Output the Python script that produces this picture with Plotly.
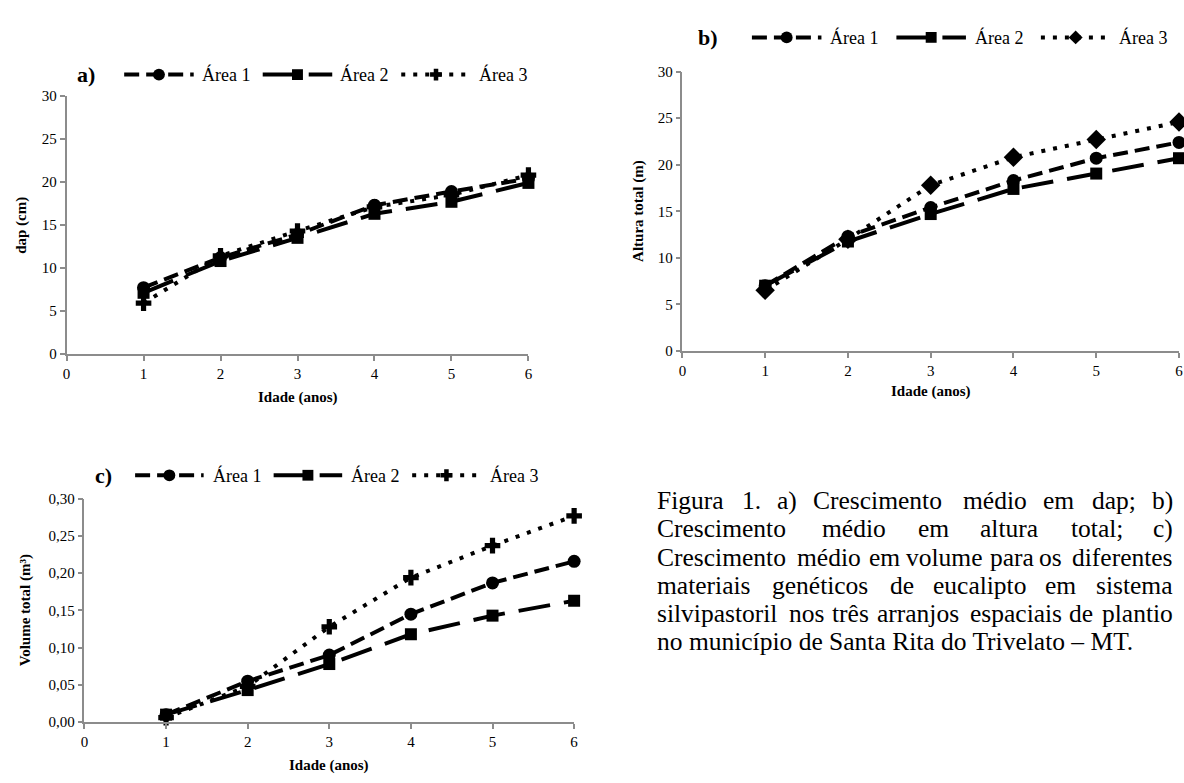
import plotly.graph_objects as go

W, H = 1184, 783

# ---------------- data ----------------
idade = [1, 2, 3, 4, 5, 6]
series_names = ["Área 1", "Área 2", "Área 3"]

dap_area1 = [7.7, 11.2, 13.9, 17.3, 18.9, 20.4]
dap_area2 = [7.1, 10.8, 13.5, 16.3, 17.7, 19.9]
dap_area3 = [5.9, 11.4, 14.3, 17.1, 18.5, 20.8]

alt_area1 = [7.0, 12.3, 15.4, 18.3, 20.7, 22.4]
alt_area2 = [7.0, 11.75, 14.7, 17.4, 19.05, 20.7]
alt_area3 = [6.5, 12.0, 17.8, 20.8, 22.7, 24.6]

vol_area1 = [0.010, 0.055, 0.090, 0.145, 0.187, 0.216]
vol_area2 = [0.010, 0.043, 0.078, 0.118, 0.143, 0.163]
vol_area3 = [0.006, 0.048, 0.128, 0.194, 0.237, 0.277]

y_titles = ["dap (cm)", "Altura total (m)", "Volume total (m³)"]
x_title = "Idade (anos)"
panel_labels = ["a)", "b)", "c)"]

caption_lines = [
    "Figura 1. a) Crescimento médio em dap; b)",
    "Crescimento médio em altura total; c)",
    "Crescimento médio em volume para os diferentes",
    "materiais genéticos de eucalipto em sistema",
    "silvipastoril nos três arranjos espaciais de plantio",
    "no município de Santa Rita do Trivelato – MT.",
]

# ---------------- helpers ----------------
def px(x):
    return x / W


def py(y):
    return 1 - y / H


FONT = "Liberation Serif, Times New Roman, serif"

TIMES = {
    'a': 444, 'b': 500, 'c': 444, 'd': 500, 'e': 444, 'f': 333, 'g': 500,
    'h': 500, 'i': 278, 'j': 278, 'k': 500, 'l': 278, 'm': 778, 'n': 500,
    'o': 500, 'p': 500, 'q': 500, 'r': 333, 's': 389, 't': 278, 'u': 500,
    'v': 500, 'w': 722, 'x': 500, 'y': 500, 'z': 444,
    'A': 722, 'B': 667, 'C': 667, 'D': 722, 'E': 611, 'F': 556, 'G': 722,
    'H': 722, 'I': 333, 'J': 389, 'K': 722, 'L': 611, 'M': 889, 'N': 722,
    'O': 722, 'P': 556, 'Q': 722, 'R': 667, 'S': 556, 'T': 611, 'U': 722,
    'V': 722, 'W': 944, 'X': 722, 'Y': 722, 'Z': 611, 'Á': 722,
    '.': 250, ',': 250, ';': 278, ':': 278, '(': 333, ')': 333, '–': 500,
    ' ': 250, 'é': 444, 'ê': 444, 'í': 278, 'á': 444, 'ó': 500,
}
for d in "0123456789":
    TIMES[d] = 500


def text_w(s, size):
    return sum(TIMES.get(ch, 500) for ch in s) * size / 1000.0


LINE_W = 4
dashes = ["15px,7px", "32px,14px", "4px,8px"]
symbols2 = ["circle", "square"]
MSIZE = {"circle": 13, "square": 12, "diamond": 15, "cross": 13}

panels = [
    dict(data=[dap_area1, dap_area2, dap_area3], xd=(63, 528), yd=(90, 353),
         yr=[0, 30], dt=5, fmt="d", sym3="cross",
         lab=(83, 68), leg=(121, 68, 70, 6, 15), ytx=18, xty=398),
    dict(data=[alt_area1, alt_area2, alt_area3], xd=(683, 1183), yd=(65, 350),
         yr=[0, 30], dt=5, fmt="d", sym3="diamond",
         lab=(709, 30), leg=(753, 30, 70, 7, 20), ytx=639, xty=392),
    dict(data=[vol_area1, vol_area2, vol_area3], xd=(81, 574), yd=(501, 729),
         yr=[0, 0.30], dt=0.05, fmt=".2f", sym3="cross",
         lab=(100, 477), leg=(132, 477, 69, 7, 15), ytx=22, xty=773),
]

fig = go.Figure()
annotations = []
shapes = []
layout = dict(
    width=W, height=H,
    margin=dict(l=0, r=0, t=0, b=0),
    paper_bgcolor="white", plot_bgcolor="white",
    separators=",.",
    font=dict(family=FONT, size=15, color="black"),
    showlegend=False,
)


def marker_shape(sym, cx, cy, size):
    """legend key marker drawn as a layout shape (pixel centre -> paper)."""
    r = size / 2.0
    base = dict(xref="paper", yref="paper", fillcolor="black",
                line=dict(width=0), layer="above")
    if sym == "circle":
        return dict(base, type="circle", x0=px(cx - r), x1=px(cx + r),
                    y0=py(cy + r), y1=py(cy - r))
    if sym == "square":
        return dict(base, type="rect", x0=px(cx - r), x1=px(cx + r),
                    y0=py(cy + r), y1=py(cy - r))
    if sym == "diamond":
        pts = [(cx, cy - r), (cx + r, cy), (cx, cy + r), (cx - r, cy)]
    else:  # cross / plus
        t = r * 0.38
        pts = [(cx - t, cy - r), (cx + t, cy - r), (cx + t, cy - t),
               (cx + r, cy - t), (cx + r, cy + t), (cx + t, cy + t),
               (cx + t, cy + r), (cx - t, cy + r), (cx - t, cy + t),
               (cx - r, cy + t), (cx - r, cy - t), (cx - t, cy - t)]
    path = "M" + " L".join("%.5f,%.5f" % (px(a), py(b)) for a, b in pts) + " Z"
    return dict(base, type="path", path=path)


for i, p in enumerate(panels):
    n = "" if i == 0 else str(i + 1)
    xa, ya = "x" + n, "y" + n
    syms = symbols2 + [p["sym3"]]
    for j in range(3):
        fig.add_trace(go.Scatter(
            x=idade, y=p["data"][j], name=series_names[j],
            xaxis=xa, yaxis=ya, mode="lines+markers",
            line=dict(color="black", width=LINE_W, dash=dashes[j]),
            marker=dict(symbol=syms[j], size=MSIZE[syms[j]], color="black"),
            cliponaxis=False,
        ))
    axis_common = dict(
        showgrid=False, zeroline=False, showline=True, linecolor="#8c8c8c",
        linewidth=1.5, ticks="outside", tickcolor="#8c8c8c", ticklen=5,
        tickwidth=1.5, tickfont=dict(family=FONT, size=15, color="black"),
        fixedrange=True,
    )
    layout["xaxis" + n] = dict(
        axis_common, domain=[px(p["xd"][0]), px(p["xd"][1])],
        range=[0, 6], dtick=1, tick0=0, anchor=ya,
    )
    layout["yaxis" + n] = dict(
        axis_common, domain=[py(p["yd"][1]), py(p["yd"][0])],
        range=p["yr"], dtick=p["dt"], tick0=0, tickformat=p["fmt"], anchor=xa,
    )
    # panel label
    annotations.append(dict(
        text="<b>%s</b>" % panel_labels[i], x=px(p["lab"][0]), y=py(p["lab"][1]),
        xref="paper", yref="paper", showarrow=False, xanchor="center",
        yanchor="middle", font=dict(family=FONT, size=22, color="black"),
    ))
    # legend (drawn as keys + text)
    lx, ly, llen, lgap, lafter = p["leg"]
    LEG_SIZE = 18
    xcur = lx
    for j in range(3):
        shapes.append(dict(type="line", xref="paper", yref="paper",
                           x0=px(xcur), x1=px(xcur + llen), y0=py(ly), y1=py(ly),
                           line=dict(color="black", width=LINE_W, dash=dashes[j]),
                           layer="above"))
        shapes.append(marker_shape(syms[j], xcur + llen / 2.0, ly,
                                   MSIZE[syms[j]] - 1))
        xcur += llen + lgap
        annotations.append(dict(
            text=series_names[j], x=px(xcur), y=py(ly), xref="paper",
            yref="paper", showarrow=False, xanchor="left", yanchor="middle",
            font=dict(family=FONT, size=LEG_SIZE, color="black"),
        ))
        xcur += text_w(series_names[j], LEG_SIZE) + lafter
    # x title
    annotations.append(dict(
        text="<b>%s</b>" % x_title, x=px((p["xd"][0] + p["xd"][1]) / 2),
        y=py(p["xty"]), xref="paper", yref="paper", showarrow=False,
        xanchor="center", yanchor="middle",
        font=dict(family=FONT, size=15, color="black"),
    ))
    # y title
    annotations.append(dict(
        text="<b>%s</b>" % y_titles[i], x=px(p["ytx"]),
        y=py((p["yd"][0] + p["yd"][1]) / 2), xref="paper", yref="paper",
        showarrow=False, textangle=-90, xanchor="center", yanchor="middle",
        font=dict(family=FONT, size=15, color="black"),
    ))

# ---------------- justified caption ----------------
CAP_SIZE = 25.5
CAP_L, CAP_R = 655, 1179
CAP_Y0, CAP_DY = 503, 28.8
WFAC = 1.06  # allowance for hinted glyph advances
cap_font = dict(family=FONT, size=CAP_SIZE, color="black")
for k, line in enumerate(caption_lines):
    yk = py(CAP_Y0 + k * CAP_DY)
    words = line.split(" ")
    if k == len(caption_lines) - 1:
        annotations.append(dict(text=line, x=px(CAP_L), y=yk, xref="paper",
                                yref="paper", showarrow=False, xanchor="left",
                                yanchor="middle", font=cap_font))
        continue
    widths = [text_w(w_, CAP_SIZE) * WFAC for w_ in words]
    nw = len(words)
    gap = (CAP_R - CAP_L - sum(widths)) / (nw - 1)
    half = nw // 2
    # left half anchored from the left margin
    xcur = CAP_L
    for wi in range(half):
        annotations.append(dict(text=words[wi], x=px(xcur), y=yk,
                                xref="paper", yref="paper", showarrow=False,
                                xanchor="left", yanchor="middle", font=cap_font))
        xcur += widths[wi] + gap
    # right half anchored from the right margin
    xcur = CAP_R
    for wi in range(nw - 1, half - 1, -1):
        annotations.append(dict(text=words[wi], x=px(xcur), y=yk,
                                xref="paper", yref="paper", showarrow=False,
                                xanchor="right", yanchor="middle", font=cap_font))
        xcur -= widths[wi] + gap

layout["annotations"] = annotations
layout["shapes"] = shapes
fig.update_layout(**layout)
fig.write_html("out.html")
